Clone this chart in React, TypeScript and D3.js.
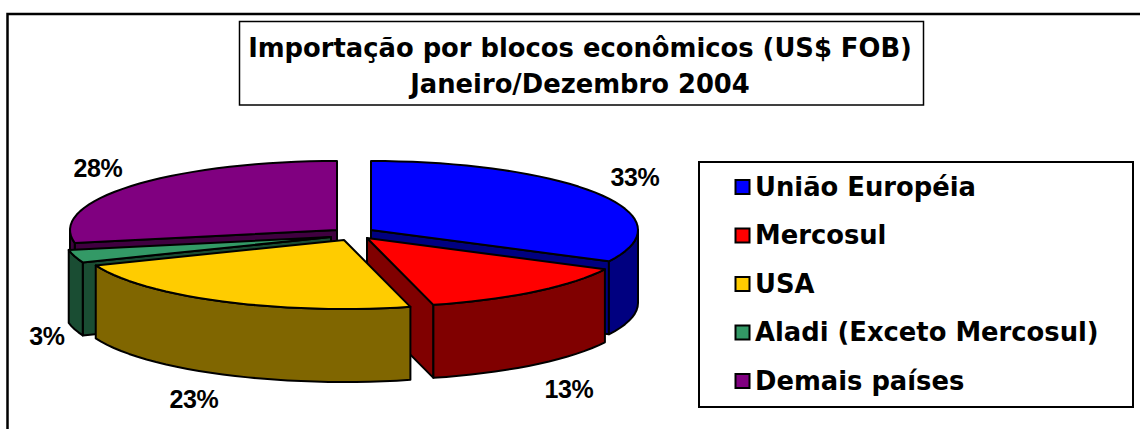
import React from "react";
import * as d3 from "d3";

const categories = ["União Européia", "Mercosul", "USA", "Aladi (Exceto Mercosul)", "Demais países"];
const shares = [32.5, 13.5, 23, 3, 28];
const labels = ["33%", "13%", "23%", "3%", "28%"];
const topColors = ["#0000FF", "#FF0000", "#FFCC00", "#339966", "#800080"];
const sideColors = ["#000080", "#800000", "#806600", "#1A4D33", "#400040"];
const apexX = [371, 367, 344, 331, 337];
const apexY = [230, 238, 240, 237, 230];
const labelX = [635, 569, 194, 47, 98];
const labelY = [186, 398, 408, 345, 177];
const titleLines = ["Importação por blocos econômicos (US$ FOB)", "Janeiro/Dezembro 2004"];

const RX = 267;
const RY = 69;
const DEPTH = 73;
const INK = "#000";

const arcs = d3.pie<number>().sort(null).value((d) => d)(shares);
const line = d3.line<[number, number]>();

function pt(i: number, a: number): [number, number] {
  return [apexX[i] + RX * Math.sin(a), apexY[i] - RY * Math.cos(a)];
}
function rim(i: number, a0: number, a1: number): [number, number][] {
  const n = Math.max(2, Math.ceil(((a1 - a0) * 180) / Math.PI / 3));
  return d3.range(n + 1).map((k) => pt(i, a0 + ((a1 - a0) * k) / n));
}
const drop = (p: [number, number]): [number, number] => [p[0], p[1] + DEPTH];
const apex = (i: number): [number, number] => [apexX[i], apexY[i]];
const closed = (pts: [number, number][]) => line(pts) + "Z";

function top(i: number) {
  const a = arcs[i];
  return closed([apex(i), ...rim(i, a.startAngle, a.endAngle)]);
}
// outer wall for the part of the rim that faces the viewer
function outer(i: number) {
  const a = arcs[i];
  const s = Math.max(a.startAngle, Math.PI / 2);
  const e = Math.min(a.endAngle, (Math.PI * 3) / 2);
  if (e <= s) return null;
  const r = rim(i, s, e);
  return closed([...r, ...r.slice().reverse().map(drop)]);
}
// radial wall along an edge
function radial(i: number, ang: number) {
  const o = pt(i, ang);
  return closed([apex(i), o, drop(o), drop(apex(i))]);
}

function Slice({ i, walls }: { i: number; walls: number[] }) {
  const o = outer(i);
  const st = { stroke: INK, strokeWidth: 2, strokeLinejoin: "round" as const };
  return (
    <g>
      {walls.map((ang, k) => (
        <path key={k} d={radial(i, ang)} fill={sideColors[i]} {...st} />
      ))}
      {o && <path d={o} fill={sideColors[i]} {...st} />}
      <path d={top(i)} fill={topColors[i]} {...st} />
    </g>
  );
}

const legendY = d3.scalePoint<number>().domain(d3.range(categories.length)).range([187, 381]);
const VERDANA = "'DejaVu Sans', Verdana, sans-serif";
const ARIAL = "'Liberation Sans', Arial, sans-serif";

export default function App() {
  return (
    <svg
      width={1140}
      height={429}
      viewBox="0 0 1140 429"
      style={{ position: "absolute", left: 0, top: 0, background: "#fff" }}
    >
      <path d="M7.5,440V14H1140" fill="none" stroke={INK} strokeWidth={2.5} />
      <rect x={239.5} y={21.5} width={684} height={83.5} fill="#fff" stroke={INK} strokeWidth={1.5} />
      {titleLines.map((t, i) => (
        <text
          key={t}
          x={580}
          y={56.5 + i * 36.5}
          textAnchor="middle"
          fontFamily={VERDANA}
          fontWeight="bold"
          fontSize={25.8}
          fill={INK}
        >
          {t}
        </text>
      ))}

      <Slice i={4} walls={[arcs[4].startAngle]} />
      <Slice i={0} walls={[arcs[0].endAngle]} />
      <Slice i={3} walls={[arcs[3].startAngle]} />
      <Slice i={1} walls={[arcs[1].endAngle]} />
      <Slice i={2} walls={[]} />

      {labels.map((t, i) => (
        <text
          key={t}
          x={labelX[i]}
          y={labelY[i]}
          textAnchor="middle"
          fontFamily={ARIAL}
          fontWeight="bold"
          fontSize={25}
          letterSpacing={-0.4}
          fill={INK}
        >
          {t}
        </text>
      ))}

      <rect x={699} y={162} width={434} height={245} fill="#fff" stroke={INK} strokeWidth={2} />
      {categories.map((c, i) => (
        <g key={c}>
          <rect
            x={735.5}
            y={(legendY(i) as number) - 7}
            width={14}
            height={14}
            fill={topColors[i]}
            stroke={INK}
            strokeWidth={2}
          />
          <text
            x={755}
            y={(legendY(i) as number) + 8.5}
            fontFamily={VERDANA}
            fontWeight="bold"
            fontSize={25.8}
            fill={INK}
          >
            {c}
          </text>
        </g>
      ))}
    </svg>
  );
}
